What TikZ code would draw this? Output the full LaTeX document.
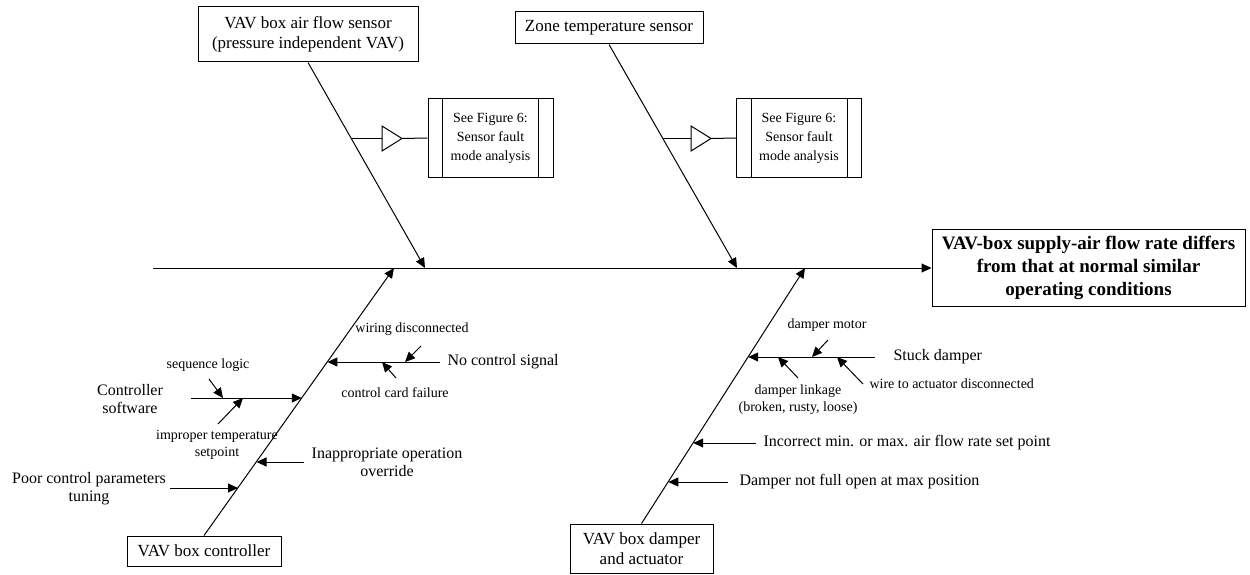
\documentclass[tikz,border=0pt]{standalone}
\usepackage{fontspec}
\setmainfont{Liberation Serif}
\usetikzlibrary{arrows.meta}
\begin{document}
\begin{tikzpicture}[x=1pt,y=-1pt,
  line width=1pt,
  tip/.style={-{Triangle[length=10pt,width=9pt]}},
  box/.style={draw, align=center, inner sep=0pt},
  big/.style={font=\fontsize{17}{20}\selectfont},
  mid/.style={font=\fontsize{16}{18}\selectfont},
  small/.style={font=\fontsize{14}{17}\selectfont},
  ref/.style={font=\fontsize{14}{19}\selectfont},
  lbl/.style={inner sep=0pt, align=center},
]
\useasboundingbox (0,0) rectangle (1250,575);

% ---- cause boxes and effect box
\node[box, big, minimum width=220pt, minimum height=55pt] (flow) at (308,34.5)
  {VAV box air flow sensor\\(pressure independent VAV)};
\node[box, big, minimum width=188pt, minimum height=32pt] (zone) at (609,28)
  {Zone temperature sensor};
\node[box, big, minimum width=154pt, minimum height=30pt] (ctrl) at (204,551)
  {VAV box controller};
\node[box, big, minimum width=143pt, minimum height=49pt] (damp) at (641.5,548.5)
  {VAV box damper\\and actuator};
\node[box, font=\fontsize{19}{23}\selectfont\bfseries, minimum width=313pt, minimum height=77pt] (effect) at (1088.5,268)
  {VAV-box supply-air flow rate differs\\from that at normal similar\\operating conditions};

% ---- spine
\coordinate (spineL) at (153,268);
\draw[tip] (spineL) -- (effect.west);

% ---- bone tips on the spine
\coordinate (tFlow) at (425,268);
\coordinate (tZone) at (737,268);
\coordinate (tCtrl) at (394,268);
\coordinate (tDamp) at (805,268);
\draw[tip] (flow.south) -- (tFlow);
\draw[tip] (zone.south) -- (tZone);
\draw[tip] (ctrl.north) -- (tCtrl);
\draw[tip] (damp.north) -- (tDamp);

% ---- links to the sensor fault mode analysis
\foreach \n/\bx/\tx/\cx in {A/352/382/490.5, B/663/691/799}{
  \coordinate (br\n) at (\bx,138.5);
  \coordinate (in\n) at (\tx,138.5);
  \coordinate (out\n) at (\tx+20,138.5);
  \draw (in\n) -- ++(0,-12.5) -- (out\n) -- ++(-20,12.5) -- cycle;
  \node[box, ref, minimum width=125pt, minimum height=78pt] (fig\n) at (\cx,138)
    {See Figure 6:\\Sensor fault\\mode analysis};
  \draw ([xshift=15pt]fig\n.north west) -- ([xshift=15pt]fig\n.south west);
  \draw ([xshift=-15pt]fig\n.north east) -- ([xshift=-15pt]fig\n.south east);
  \draw (br\n) -- (in\n);
  \draw (out\n) -- (fig\n.west);
}

% ---- controller bone
\coordinate (cNo) at (327.4,362);
\coordinate (cNoS) at (440,362);
\coordinate (cSw) at (301.8,398);
\coordinate (cSwS) at (191,398);
\coordinate (cOv) at (256.5,462);
\coordinate (cOvS) at (304,462);
\coordinate (cTu) at (238,488);
\coordinate (cTuS) at (170,488);
\draw[tip] (cNoS) -- (cNo);
\draw[tip] (cSwS) -- (cSw);
\draw[tip] (cOvS) -- (cOv);
\draw[tip] (cTuS) -- (cTu);

\node[lbl, mid, anchor=west] (lNo) at (447,362) {No control signal};
\node[lbl, mid] (lSw) at (130,399) {Controller\\software};
\node[lbl, mid] (lOv) at (387,462) {Inappropriate operation\\override};
\node[lbl, mid] (lTu) at (89,489) {Poor control parameters\\tuning};

% sub-causes of the controller bone
\coordinate (sWiS) at (421,346);  \coordinate (sWi) at (405,362);
\coordinate (sCaS) at (396,378);  \coordinate (sCa) at (382,362);
\coordinate (sSeS) at (209,379);  \coordinate (sSe) at (223,398);
\coordinate (sImS) at (218,424);  \coordinate (sIm) at (243,398);
\draw[tip] (sWiS) -- (sWi);
\draw[tip] (sCaS) -- (sCa);
\draw[tip] (sSeS) -- (sSe);
\draw[tip] (sImS) -- (sIm);
\node[lbl, small] (lWi) at (412,329) {wiring disconnected};
\node[lbl, small] (lCa) at (395,393) {control card failure};
\node[lbl, small] (lSe) at (208,365) {sequence logic};
\node[lbl, small] (lIm) at (217,445) {improper temperature\\setpoint};

% ---- damper bone
\coordinate (dSt) at (748.2,357);
\coordinate (dStS) at (875,357);
\coordinate (dIn) at (693.2,443);
\coordinate (dInS) at (756,443);
\coordinate (dNf) at (668.3,482);
\coordinate (dNfS) at (728,482);
\draw[tip] (dStS) -- (dSt);
\draw[tip] (dInS) -- (dIn);
\draw[tip] (dNfS) -- (dNf);
\node[lbl, mid, anchor=west] (lSt) at (893,357) {Stuck damper};
\node[lbl, mid, anchor=west] (lIn) at (763,443) {Incorrect min. or max. air flow rate set point};
\node[lbl, mid, anchor=west] (lNf) at (739,482) {Damper not full open at max position};

% sub-causes of the stuck damper
\coordinate (sMoS) at (828,340);  \coordinate (sMo) at (812,357);
\coordinate (sLiS) at (798,378);  \coordinate (sLi) at (778,357);
\coordinate (sWaS) at (863,384);  \coordinate (sWa) at (837,357);
\draw[tip] (sMoS) -- (sMo);
\draw[tip] (sLiS) -- (sLi);
\draw[tip] (sWaS) -- (sWa);
\node[lbl, small] (lMo) at (827,325) {damper motor};
\node[lbl, small] (lLi) at (798,400) {damper linkage\\(broken, rusty, loose)};
\node[lbl, small, anchor=west] (lWa) at (869,384) {wire to actuator disconnected};

\end{tikzpicture}
\end{document}
